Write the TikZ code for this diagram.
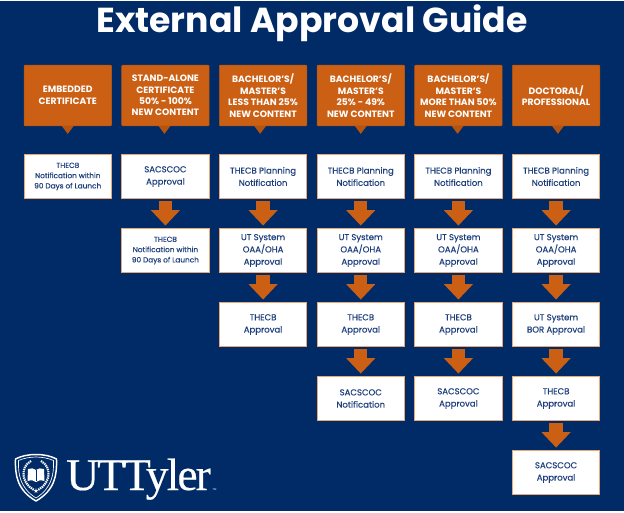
\documentclass[tikz,border=0pt]{standalone}
\usepackage{fontspec}
\setmainfont{Poppins}
\newfontfamily\boxfont{Poppins}[FakeBold=0.3]
\newfontfamily\logofont{Liberation Serif}[LetterSpace=-4,FakeBold=0.4]
\newfontfamily\symbolfont{DejaVu Sans}
\usetikzlibrary{arrows.meta,positioning}
\definecolor{navy}{HTML}{012B66}
\definecolor{burnt}{HTML}{CB5F14}
\definecolor{burntdark}{HTML}{B4540F}
\definecolor{peach}{HTML}{EBA877}
\definecolor{inkblue}{HTML}{1E3F7C}

\newcommand{\pointer}[2][0pt]{%
  \fill[burntdark] ([xshift=#1-4.5pt]#2.south) -- ([xshift=#1+4.5pt]#2.south) -- ([xshift=#1,yshift=-6pt]#2.south) -- cycle;}

\begin{document}
\begin{tikzpicture}[x=0.75pt,y=-0.75pt,
            headbox/.style={draw=burntdark,fill=burnt,rounded corners=0.6pt,minimum width=65.6pt,minimum height=45.5pt,inner sep=0pt,outer sep=0pt,
              align=center,text=white,font=\fontsize{6.9}{8.6}\selectfont\bfseries,execute at end node={\endgraf\vspace{1.5pt}}},
            stepbox/.style={draw=peach,line width=0.6pt,fill=white,minimum width=65.6pt,minimum height=33pt,inner sep=0pt,outer sep=0pt,
              align=center,text=inkblue,font=\fontsize{6.4}{9.2}\selectfont\boxfont,execute at end node={\endgraf\vspace{1.5pt}}},
            smalltext/.style={font=\fontsize{5.5}{7.7}\selectfont\boxfont},
            flow/.style={-{Triangle[length=11.5pt,width=21pt]},burnt,line width=10pt,shorten <=2.2pt,shorten >=2.2pt},
            node distance = 22.5pt and 7.65pt
  ]

  % background
  \fill[navy] (0,1) rectangle (624,511);
  \useasboundingbox (0,0) rectangle (624,512);

  \node[text=white,font=\fontsize{26}{29}\selectfont\bfseries] (title) at (312,23) {External Approval Guide};

  % header row
  \node[headbox] (embedded) at (67.75,95.5) {EMBEDDED\\CERTIFICATE};
  \node[headbox] (standalone) [right=of embedded] {STAND-ALONE\\CERTIFICATE\\50\% - 100\%\\NEW CONTENT};
  \node[headbox] (lessthan) [right=of standalone] {BACHELOR'S/\\MASTER'S\\LESS THAN 25\%\\NEW CONTENT};
  \node[headbox] (midrange) [right=of lessthan] {BACHELOR'S/\\MASTER'S\\25\% - 49\%\\NEW CONTENT};
  \node[headbox] (morethan) [right=of midrange] {BACHELOR'S/\\MASTER'S\\MORE THAN 50\%\\NEW CONTENT};
  \node[headbox] (doctoral) [right=of morethan] {DOCTORAL/\\PROFESSIONAL};

  \pointer{embedded}
  \pointer[-0.7pt]{standalone}
  \pointer[-2.2pt]{lessthan}
  \pointer{midrange}
  \pointer[-0.6pt]{morethan}
  \pointer[1.4pt]{doctoral}

  % embedded certificate
  \node[stepbox, smalltext] (embeddedA) [below=21.5pt of embedded] {THECB\\Notification within\\90 Days of Launch};

  % stand-alone certificate
  \node[stepbox] (standaloneA) [below=21.5pt of standalone] {SACSCOC\\Approval};
  \node[stepbox, smalltext] (standaloneB) [below=of standaloneA] {THECB\\Notification within\\90 Days of Launch};
  \draw[flow] (standaloneA) -- (standaloneB);

  % less than 25
  \node[stepbox] (lessthanA) [below=21.5pt of lessthan] {THECB Planning\\Notification};
  \node[stepbox] (lessthanB) [below=of lessthanA] {UT System\\OAA/OHA\\Approval};
  \node[stepbox] (lessthanC) [below=of lessthanB] {THECB\\Approval};
  \draw[flow] (lessthanA) -- (lessthanB);
  \draw[flow] (lessthanB) -- (lessthanC);

  % 25 to 49
  \node[stepbox] (midrangeA) [below=21.5pt of midrange] {THECB Planning\\Notification};
  \node[stepbox] (midrangeB) [below=of midrangeA] {UT System\\OAA/OHA\\Approval};
  \node[stepbox] (midrangeC) [below=of midrangeB] {THECB\\Approval};
  \node[stepbox] (midrangeD) [below=of midrangeC] {SACSCOC\\Notification};
  \draw[flow] (midrangeA) -- (midrangeB);
  \draw[flow] (midrangeB) -- (midrangeC);
  \draw[flow] (midrangeC) -- (midrangeD);

  % more than 50
  \node[stepbox] (morethanA) [below=21.5pt of morethan] {THECB Planning\\Notification};
  \node[stepbox] (morethanB) [below=of morethanA] {UT System\\OAA/OHA\\Approval};
  \node[stepbox] (morethanC) [below=of morethanB] {THECB\\Approval};
  \node[stepbox] (morethanD) [below=of morethanC] {SACSCOC\\Approval};
  \draw[flow] (morethanA) -- (morethanB);
  \draw[flow] (morethanB) -- (morethanC);
  \draw[flow] (morethanC) -- (morethanD);

  % doctoral
  \node[stepbox] (doctoralA) [below=21.5pt of doctoral] {THECB Planning\\Notification};
  \node[stepbox] (doctoralB) [below=of doctoralA] {UT System\\OAA/OHA\\Approval};
  \node[stepbox] (doctoralC) [below=of doctoralB] {UT System\\BOR Approval};
  \node[stepbox] (doctoralD) [below=of doctoralC] {THECB\\Approval};
  \node[stepbox] (doctoralE) [below=of doctoralD] {SACSCOC\\Approval};
  \draw[flow] (doctoralA) -- (doctoralB);
  \draw[flow] (doctoralB) -- (doctoralC);
  \draw[flow] (doctoralC) -- (doctoralD);
  \draw[flow] (doctoralD) -- (doctoralE);

  % logo
  \draw[white,line width=1.1pt,fill=navy,line join=round] (36,454.5) .. controls (28,454.5) and (21,456) .. (15.5,459) .. controls (15,475) and (17,490) .. (36,501) .. controls (55,490) and (57,475) .. (56.5,459) .. controls (51,456) and (44,454.5) .. (36,454.5) -- cycle;
  \draw[white,line width=0.5pt] (36,457) .. controls (29,457) and (23,458.5) .. (18.5,460.5) .. controls (18,474) and (20,488) .. (36,498) .. controls (52,488) and (54,474) .. (53.5,460.5) .. controls (49,458.5) and (43,457) .. (36,457) -- cycle;
  \draw[white,line width=1.6pt,dash pattern=on 1pt off 0.6pt] (41,461) .. controls (52,467) and (51,483) .. (38,490);
  \draw[white,line width=1.6pt,dash pattern=on 1pt off 0.6pt] (31,461) .. controls (20,467) and (21,483) .. (34,490);
  \fill[white] (28,469) .. controls (31,468) and (34,468) .. (36,470) .. controls (38,468) and (41,468) .. (44,469) -- (44.5,481) .. controls (41,480) and (38,480) .. (36,482) .. controls (34,480) and (31,480) .. (27.5,481) -- cycle;
  \draw[navy,line width=0.4pt] (36,470) -- (36,481);
  \node[white,font=\fontsize{5}{5}\symbolfont,inner sep=0pt] (star) at (36,491.5) {★};
  \node[white,anchor=base west,inner sep=0pt,font=\fontsize{34}{34}\logofont] (wordmark) at (66,490) {UTTyler};
  \node[white,anchor=base west,inner sep=0pt,font=\fontsize{2}{3}\selectfont] (trademark) at ([xshift=1pt]wordmark.base east) {TM};

\end{tikzpicture}
\end{document}
